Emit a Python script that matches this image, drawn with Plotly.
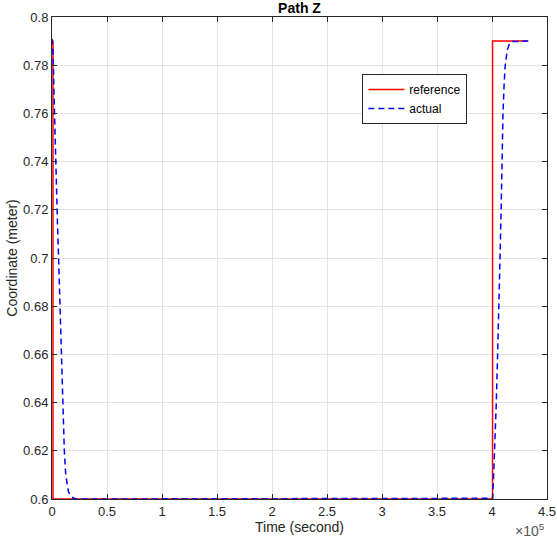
import plotly.graph_objects as go

# ---- data (time in seconds, coordinate in meters) ----
ref_t = [0, 900, 900, 400500, 400500, 432000]
ref_z = [0.79, 0.79, 0.60, 0.60, 0.79, 0.79]

act_t = [0, 1000, 2000, 3000, 4000, 5000, 6000, 7200, 8500, 9700, 11200, 12500,
         13600, 15000, 16600, 19000, 22000, 150000, 240000, 300000, 360000, 400000,
         400500, 401500, 402400, 403900, 405100, 406400, 407300, 408300, 409000,
         410000, 411000, 412000, 413900, 416000, 418000, 433000]
act_z = [0.791, 0.785, 0.765, 0.745, 0.728, 0.714, 0.700, 0.680, 0.660, 0.640, 0.620, 0.610,
         0.6065, 0.603, 0.6015, 0.6005, 0.600, 0.600, 0.6002, 0.6003, 0.6002, 0.600,
         0.6003, 0.610, 0.620, 0.640, 0.660, 0.680, 0.700, 0.720, 0.740,
         0.760, 0.772, 0.780, 0.7864, 0.789, 0.7898, 0.790]

x_tickvals = [0, 50000, 100000, 150000, 200000, 250000, 300000, 350000, 400000, 450000]
x_ticktext = ["0", "0.5", "1", "1.5", "2", "2.5", "3", "3.5", "4", "4.5"]
y_tickvals = [0.60, 0.62, 0.64, 0.66, 0.68, 0.70, 0.72, 0.74, 0.76, 0.78, 0.80]
y_ticktext = ["0.6", "0.62", "0.64", "0.66", "0.68", "0.7", "0.72", "0.74", "0.76", "0.78", "0.8"]

FONT = "Liberation Sans, Arial, sans-serif"
AX = "#262626"
GRID = "#e3e3e3"

fig = go.Figure()
fig.add_trace(go.Scatter(x=ref_t, y=ref_z, mode="lines", name="reference",
                         line=dict(color="#ff0000", width=1.5)))
fig.add_trace(go.Scatter(x=act_t, y=act_z, mode="lines", name="actual",
                         line=dict(color="#0000ff", width=1.5, dash="6px,4px")))

axis_common = dict(showline=True, linecolor=AX, linewidth=1, mirror="allticks",
                   ticks="inside", ticklen=5, tickcolor=AX, showgrid=True,
                   gridcolor=GRID, gridwidth=1, zeroline=False, automargin=False,
                   tickfont=dict(family=FONT, size=13, color=AX))

fig.update_xaxes(range=[0, 450000], tickmode="array", tickvals=x_tickvals,
                 ticktext=x_ticktext,
                 title=dict(text="Time (second)", font=dict(family=FONT, size=14, color=AX),
                            standoff=2),
                 **axis_common)
fig.update_yaxes(range=[0.6, 0.8], tickmode="array", tickvals=y_tickvals,
                 ticktext=y_ticktext,
                 title=dict(text="Coordinate (meter)", font=dict(family=FONT, size=14, color=AX),
                            standoff=2),
                 **axis_common)

fig.update_layout(
    width=557, height=543,
    margin=dict(l=52, r=10, t=17, b=44),
    paper_bgcolor="white", plot_bgcolor="white",
    font=dict(family=FONT, color=AX),
    title=dict(text="<b>Path Z</b>", x=(52 + 547) / 2 / 557, xanchor="center",
               y=1 - 8 / 543, yanchor="middle", yref="container",
               font=dict(family=FONT, size=14, color="#000000")),
    legend=dict(x=0.627, y=0.882, xanchor="left", yanchor="top",
                bgcolor="white", bordercolor=AX, borderwidth=1,
                font=dict(family=FONT, size=12, color="#000000"),
                tracegroupgap=0, itemwidth=36),
    annotations=[dict(text="\u00d710<sup>5</sup>", xref="paper", yref="paper",
                      x=1.0, y=-0.087, xanchor="right", yanchor="bottom", showarrow=False,
                      font=dict(family=FONT, size=14, color="#555555"))],
)

fig.write_html("out.html", config={"displayModeBar": False},
               post_script="document.body.style.margin='0';document.body.style.padding='0';")
